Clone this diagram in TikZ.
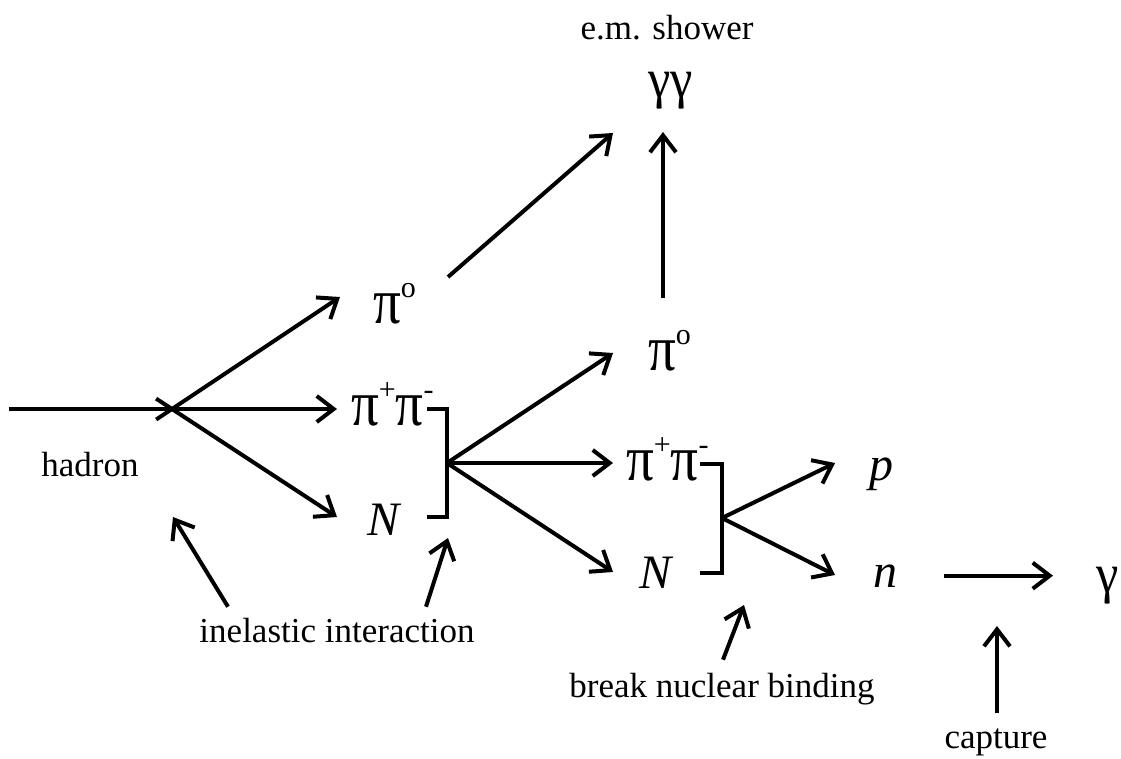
\documentclass[tikz,border=0pt]{standalone}
\usepackage{fontspec}
\setmainfont{Liberation Serif}
\usetikzlibrary{arrows.meta,calc}
\newcommand{\upidx}[1]{\raisebox{26pt}{\fontsize{30}{30}\selectfont #1}}
\newcommand{\gpi}{\scalebox{1.15}[1.35]{π}}
\newcommand{\ggam}{\scalebox{1.05}[1.15]{γ}}

\begin{document}
\begin{tikzpicture}[x=1pt, y=-1pt, line width=4pt, >={Straight Barb[length=17pt, width=26pt]},
  part/.style={inner sep=0pt, anchor=base west, font=\fontsize{48}{48}\selectfont},
  ipart/.style={part, font=\fontsize{48}{48}\selectfont\itshape},
  note/.style={inner sep=0pt, anchor=base, font=\fontsize{35}{35}\selectfont}]
  \useasboundingbox (0,0) rectangle (1121,758);
  % particles
  \node[part] (gg) at (646,97) {\ggam\ggam};
  \node[part] (pi0a) at (371,323) {\gpi\upidx{o}};
  \node[part] (pipa) at (349,425) {\gpi\upidx{+}\gpi\upidx{-}};
  \node[ipart] (Na) at (365,535) {N};
  \node[part] (pi0b) at (646,370) {\gpi\upidx{o}};
  \node[part] (pipb) at (624,480) {\gpi\upidx{+}\gpi\upidx{-}};
  \node[ipart] (Nb) at (637,588) {N};
  \node[ipart] (p) at (867,480) {p};
  \node[ipart] (n) at (871,587) {n};
  \node[part] (g) at (1094,592) {\ggam};
  % labels
  \node[note] (shower) at (667,39) {e.m. shower};
  \node[note] (hadron) at (90,476) {hadron};
  \node[note] (inel) at (337,642) {inelastic interaction};
  \node[note] (binding) at (722,697) {break nuclear binding};
  \node[note] (capture) at (996,748) {capture};
  % vertices and arrow ends
  \coordinate (hin) at (9,409);
  \coordinate (v1) at (172,409);
  \coordinate (v2) at (447,463);
  \coordinate (v3) at (722,518);
  \coordinate (pi0a-in) at (340,297);
  \coordinate (pipa-in) at (337,409);
  \coordinate (Na-in) at (337,517);
  \coordinate (pi0b-in) at (613,353);
  \coordinate (pipb-in) at (613,463);
  \coordinate (Nb-in) at (613,572);
  \coordinate (p-in) at (835,463);
  \coordinate (n-in) at (835,575);
  \coordinate (pi0a-out) at (448,277);
  \coordinate (pi0b-out) at (663,298);
  \coordinate (gg-ina) at (613,133);
  \coordinate (gg-inb) at (663,132);
  % interactions
  \draw (hin) -- (v1);
  \draw[->] ($(v1)!-19pt!(pi0a-in)$) -- (pi0a-in);
  \draw[->] (v1) -- (pipa-in);
  \draw[->] ($(v1)!-19pt!(Na-in)$) -- (Na-in);
  \draw (427,409) -| (v2) |- (427,517);
  \foreach \t in {pi0b-in,pipb-in,Nb-in} \draw[->] (v2) -- (\t);
  \draw (700,464) -| (v3) |- (700,573);
  \foreach \t in {p-in,n-in} \draw[->] (v3) -- (\t);
  \draw[->, shorten <=45pt, shorten >=41pt] (n.east) -- (n.east -| g.west);
  \draw[->] (pi0a-out) -- (gg-ina);
  \draw[->] (pi0b-out) -- (gg-inb);
  % pointers from the notes
  \draw[->] ([xshift=-109pt, yshift=9pt]inel.north) -- ($(v1)+(1,108)$);
  \draw[->] ([xshift=89pt, yshift=9pt]inel.north) -- (448,538);
  \draw[->] ([xshift=1pt, yshift=11pt]binding.north) -- (744,605);
  \draw[->] ([xshift=1pt, yshift=13pt]capture.north) -- (997,626);
\end{tikzpicture}
\end{document}
